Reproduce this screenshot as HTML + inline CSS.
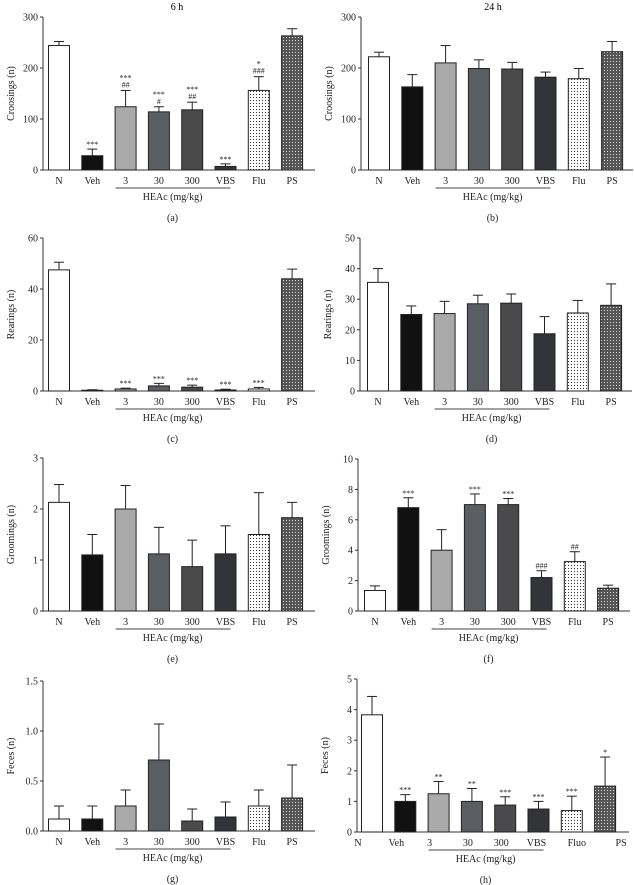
<!DOCTYPE html>
<html><head><meta charset="utf-8"><style>
body{margin:0;background:#fff;}
svg{display:block;font-family:"Liberation Serif",serif;}
</style></head><body>
<svg id="fig" width="634" height="885" viewBox="0 0 634 885" xmlns="http://www.w3.org/2000/svg">
<defs>
<pattern id="dots" width="3" height="3" patternUnits="userSpaceOnUse"><rect width="3" height="3" fill="#fff"/><rect x="1" y="1" width="1" height="1" fill="#333"/></pattern>
<pattern id="hatch" width="3" height="3" patternUnits="userSpaceOnUse"><rect width="3" height="3" fill="#555"/><rect x="1" y="1" width="1" height="1" fill="#ddd"/></pattern>
</defs>
<text x="177" y="10" font-size="10" text-anchor="middle">6 h</text>
<text x="493" y="10" font-size="10" text-anchor="middle">24 h</text>
</svg>
<script>
const categories=["N","Veh","3","30","300","VBS","Flu","PS"];
const fills=["#fff","#111","#aaa","#5a5d62","#4a4a4c","#333438","url(#dots)","url(#hatch)"];
const valsA=[244,28,124,114,118,7,156,263];
const errA=[8,13,32,10,15,5,27,14];
const starsA=[["",""],["***",""],["***","##"],["***","#"],["***","##"],["***",""],["*","###"],["",""]];
const valsB=[222,163,210,199,198,182,179,232];
const errB=[9,24,34,17,13,10,20,20];
const valsC=[47.5,0.3,0.8,2,1.5,0.4,0.8,44];
const errC=[3,0.2,0.3,1,0.8,0.3,0.6,3.8];
const starsC=[["",""],["",""],["***",""],["***",""],["***",""],["***",""],["***",""],["",""]];
const valsD=[35.5,25,25.3,28.5,28.7,18.7,25.5,28];
const errD=[4.5,2.8,4,2.8,3,5.6,4.1,7];
const valsE=[2.13,1.1,2,1.12,0.87,1.12,1.5,1.83];
const errE=[0.35,0.4,0.46,0.52,0.52,0.55,0.82,0.3];
const valsF=[1.35,6.8,4,7,7,2.2,3.25,1.5];
const errF=[0.3,0.65,1.35,0.7,0.4,0.45,0.65,0.2];
const starsF=[["",""],["***",""],["",""],["***",""],["***",""],["###",""],["##",""],["",""]];
const valsG=[0.12,0.12,0.25,0.71,0.1,0.14,0.25,0.33];
const errG=[0.13,0.13,0.16,0.36,0.12,0.15,0.16,0.33];
const valsH=[3.83,1,1.25,1,0.88,0.75,0.7,1.5];
const errH=[0.6,0.22,0.4,0.42,0.27,0.25,0.47,0.95];
const starsH=[["",""],["***",""],["**",""],["**",""],["***",""],["***",""],["***",""],["*",""]];
const ticksA=[0,100,200,300],ticksC=[0,20,40,60],ticksD=[0,10,20,30,40,50],ticksE=[0,1,2,3],ticksF=[0,2,4,6,8,10],ticksG=["0.0","0.5","1.0","1.5"],ticksH=[0,1,2,3,4,5];
const labelsH=["N","Veh","3","30","300","VBS","Fluo","PS"];

const NS="http://www.w3.org/2000/svg";
const svg=document.getElementById('fig');
function mk(tag,attrs,parent){const e=document.createElementNS(NS,tag);for(const k in attrs)e.setAttribute(k,attrs[k]);(parent||svg).appendChild(e);return e;}

function panel(id,ax,c0,top,bot,max,ticks,vals,errs,stars,ytitle,letter,labels,labShift){
  const g=mk('g',{});
  
  
  const sp=33.3,bw=21;
  const y=v=>bot-(v/max)*(bot-top);
  const x=i=>c0+i*sp;
  // axis
  const axl=mk('line',{x1:ax,y1:top,x2:ax,y2:bot,stroke:'#333','stroke-width':1},g);
  
  
  const xl=mk('line',{x1:ax,y1:bot,x2:ax+272,y2:bot,stroke:'#333','stroke-width':1},g);
  
  
  ticks.forEach(t=>{
    const ty=y(parseFloat(t));
    mk('line',{x1:ax-3,y1:ty,x2:ax,y2:ty,stroke:'#333'},g);
    const tl=mk('text',{x:ax-5,y:ty+3.5,'font-size':10,'text-anchor':'end',fill:'#222'},g);
    tl.textContent=t;
    
    
  });
  const yt=mk('text',{x:0,y:0,'font-size':10,'text-anchor':'middle',fill:'#222',transform:`translate(${ax-29},${(top+bot)/2}) rotate(-90)`},g);
  yt.textContent=ytitle;
  
  
  vals.forEach((v,i)=>{
    const cx=x(i),yv=y(v),ye=y(v+errs[i]);
    mk('line',{x1:cx,y1:yv,x2:cx,y2:ye,stroke:'#222','stroke-width':1},g);
    mk('line',{x1:cx-5,y1:ye,x2:cx+5,y2:ye,stroke:'#222','stroke-width':1},g);
    const b=mk('rect',{x:cx-bw/2,y:yv,width:bw,height:Math.max(bot-yv,0.5),fill:fills[i],stroke:'#222','stroke-width':1},g);
    
    
    if(stars){
      const s=stars[i];
      if(s[1]){const t=mk('text',{x:cx,y:ye-3,'font-size':8,'text-anchor':'middle',fill:'#222'},g);t.textContent=s[1];
        
        }
      if(s[0]){const t=mk('text',{x:cx,y:ye-(s[1]?10:2),'font-size':8,'text-anchor':'middle',fill:'#222'},g);t.textContent=s[0];
        
        }
    }
    const lb=mk('text',{x:cx+(labShift?labShift[i]:0),y:bot+14,'font-size':10,'text-anchor':'middle',fill:'#222'},g);
    lb.textContent=(labels||categories)[i];
    
    
  });
  const hl=mk('line',{x1:x(2)-10,y1:bot+18,x2:x(5)+5,y2:bot+18,stroke:'#444'},g);
  
  
  const ht=mk('text',{x:(x(2)+x(5))/2-3,y:bot+30,'font-size':10,'text-anchor':'middle',fill:'#222'},g);
  ht.textContent='HEAc (mg/kg)';
  
  
  const lt=mk('text',{x:(x(2)+x(5))/2-3,y:bot+51,'font-size':10,'text-anchor':'middle',fill:'#222'},g);
  lt.textContent='('+letter+')';
  
  
}
panel('a',43,59,17,170,300,ticksA,valsA,errA,starsA,'Croosings (n)','a');
panel('b',361,379,17,170,300,ticksA,valsB,errB,null,'Croosings (n)','b');
panel('c',43,59,238,391,60,ticksC,valsC,errC,starsC,'Rearings (n)','c');
panel('d',360,378,238,391,50,ticksD,valsD,errD,null,'Rearings (n)','d');
panel('e',43,59,458,611,3,ticksE,valsE,errE,null,'Groomings (n)','e');
panel('f',358,375,459,611,10,ticksF,valsF,errF,starsF,'Groomings (n)','f');
panel('g',43,59,681,831,1.5,ticksG,valsG,errG,null,'Feces (n)','g');
panel('h',357,372,679,832,5,ticksH,valsH,errH,starsH,'Feces (n)','h',labelsH,[-14,-9,-9,-4,-4,-2,5,16]);
</script>
</body></html>
